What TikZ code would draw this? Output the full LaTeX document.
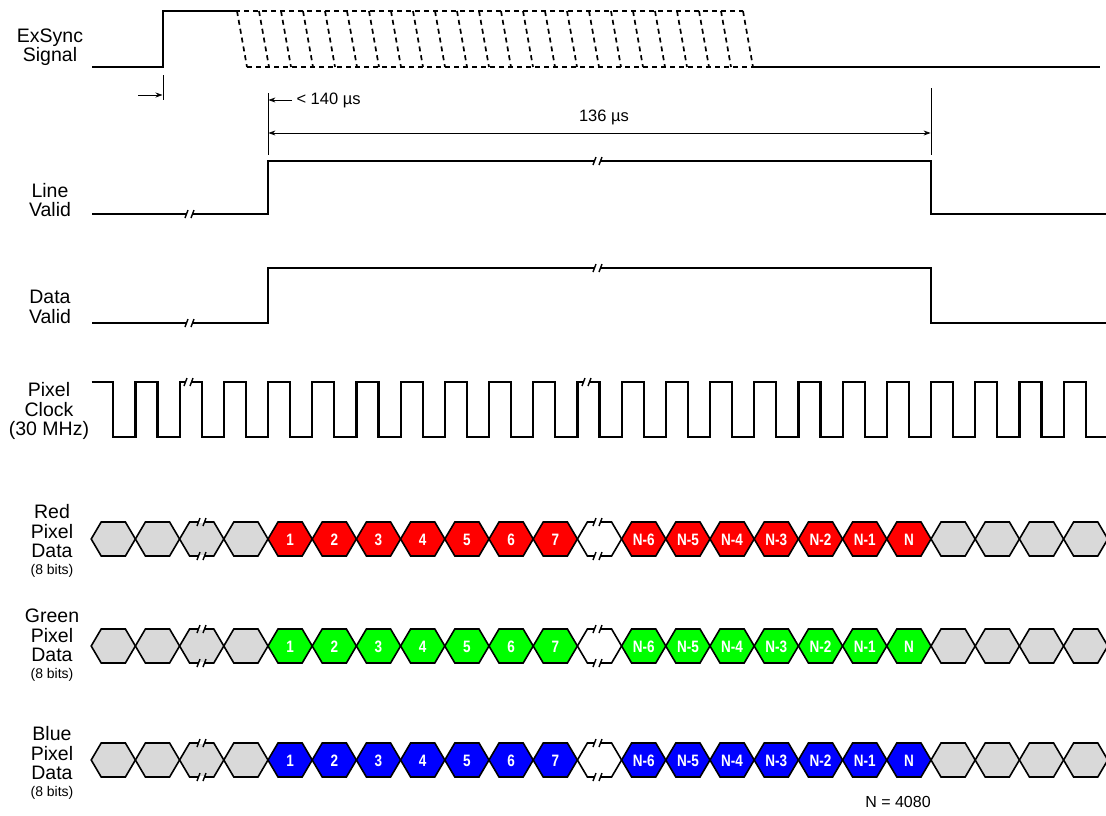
\documentclass[tikz,border=0pt]{standalone}
\usepackage{fontspec}
\setmainfont{Liberation Sans}
\newfontfamily\hexfont[FakeStretch=0.82]{Liberation Sans}
\usetikzlibrary{arrows.meta}
\definecolor{hexgray}{RGB}{217,217,217}
\definecolor{hred}{RGB}{255,0,0}
\definecolor{hgreen}{RGB}{0,255,0}
\definecolor{hblue}{RGB}{0,0,255}
\newcommand\brkmark[3]{% x, y, half-height of gap
  \fill[white] (#1-3.2,#2-#3) rectangle (#1+2.6,#2+#3);
  \draw[line width=1.4pt] (#1-5,#2+4) -- (#1-2,#2-4) (#1+1,#2+4) -- (#1+4,#2-4);}
\newcommand\hexat[3]{% left x, centre y, fill
  \filldraw[hexline, fill=#3] (#1,#2) -- ({#1+10},{#2-17}) -- ({#1+34.2},{#2-17}) -- ({#1+44.2},#2) -- ({#1+34.2},{#2+17}) -- ({#1+10},{#2+17}) -- cycle;}
\newcommand\datarow[3]{% centre y, colour, name
  \foreach \k in {-4,-3,-2,-1,15,16,17,18} {\pgfmathsetmacro\xl{268+\k*44.2}\hexat{\xl}{#1}{hexgray}}
  \pgfmathsetmacro\xl{268+7*44.2}\hexat{\xl}{#1}{white}
  \foreach \k/\t in {0/1,1/2,2/3,3/4,4/5,5/6,6/7,8/N-6,9/N-5,10/N-4,11/N-3,12/N-2,13/N-1,14/N} {%
    \pgfmathsetmacro\xl{268+\k*44.2}\hexat{\xl}{#1}{#2}
    \node[hext] (#3\k) at ({\xl+22.1},{#1+0.5}) {\t};}
  \brkmark{202}{#1-17}{1.3}\brkmark{202}{#1+17}{1.3}
  \brkmark{598}{#1-17}{1.3}\brkmark{598}{#1+17}{1.3}}
\begin{document}
\begin{tikzpicture}[x=1pt,y=-1pt,
  sig/.style={line width=2.2pt, line join=miter},
  dimline/.style={line width=0.8pt},
  dimarrow/.style={line width=0.8pt, -{Stealth[length=7pt,width=5pt]}},
  lbl/.style={font=\fontsize{19.5}{19.5}\selectfont, align=center},
  smalltxt/.style={font=\fontsize{16.5}{17}\selectfont},
  hexline/.style={line width=1.6pt, line join=miter},
  hext/.style={text=white, font=\hexfont\bfseries\fontsize{16.5}{16.5}\selectfont},
  dsh/.style={line width=1.7pt, dash pattern=on 5pt off 4pt}]
\useasboundingbox (0,0) rectangle (1106,815);
% labels
\node[lbl] (lex) at (50,47) {ExSync\\Signal};
\node[lbl] (llv) at (50,200) {Line\\Valid};
\node[lbl] (ldv) at (50,307) {Data\\Valid};
\node[lbl] (lpc) at (49,411) {Pixel\\Clock\\(30 MHz)};
\node[lbl] (lrd) at (52,541) {Red\\Pixel\\Data\\[-3pt]{\fontsize{14}{15}\selectfont(8 bits)}};
\node[lbl] (lgd) at (52,645) {Green\\Pixel\\Data\\[-3pt]{\fontsize{14}{15}\selectfont(8 bits)}};
\node[lbl] (lbd) at (52,763) {Blue\\Pixel\\Data\\[-3pt]{\fontsize{14}{15}\selectfont(8 bits)}};
% ExSync
\draw[sig] (92,67) -- (163,67) -- (163,11) -- (235,11);
\draw[dsh] (235,11) -- (743,11);
\draw[dsh] (247,67) -- (753,67);
\foreach \i in {0,...,23} \draw[dsh] ({237+\i*22},11) -- ({247+\i*22},67);
\draw[sig] (753,67) -- (1100,67);
% timing dimensions
\coordinate (exedge) at (162.5,95);
\coordinate (exarr) at (138,95);
\draw[dimline] (163,75) -- (163,100);
\draw[dimarrow] (exarr) -- (exedge);
\coordinate (lvtop) at (268,93);
\coordinate (lvbot) at (268,155);
\coordinate (lvtopr) at (931,88);
\coordinate (lvbotr) at (931,155);
\draw[dimline] (lvtop) -- (lvbot);
\draw[dimline] (lvtopr) -- (lvbotr);
\coordinate (d140a) at (292,100);
\coordinate (d140b) at (268.4,100);
\draw[dimarrow] (d140a) -- (d140b);
\node[smalltxt, anchor=west] (t140) at (293,100) {< 140 µs};
\coordinate (d136a) at (268.4,133);
\coordinate (d136b) at (930.6,133);
\draw[dimline, {Stealth[length=7pt,width=5pt]}-{Stealth[length=7pt,width=5pt]}] (d136a) -- (d136b);
\node[smalltxt] (t136) at (604,117) {136 µs};
% Line Valid
\draw[sig] (92,214) -- (268,214) -- (268,161) -- (931,161) -- (931,214) -- (1106,214);
\brkmark{190}{214}{1.6}\brkmark{598}{161}{1.6}
% Data Valid
\draw[sig] (92,323) -- (268,323) -- (268,268) -- (931,268) -- (931,323) -- (1106,323);
\brkmark{190}{323}{1.6}\brkmark{598}{268}{1.6}
% Pixel clock
\draw[sig] (91.5,382) \foreach \k in {-4,...,17} { -- ({268+\k*44.2+22.1},382) -- ({268+\k*44.2+22.1},437) -- ({268+(\k+1)*44.2},437) -- ({268+(\k+1)*44.2},382) } -- (1085.7,382) -- (1085.7,437) -- (1106,437);
\brkmark{189}{382}{1.6}\brkmark{587}{382}{1.6}
% data rows
\datarow{539}{hred}{r}
\datarow{646}{hgreen}{g}
\datarow{760}{hblue}{b}
\node[font=\fontsize{16}{17}\selectfont] (nn) at (898,802) {N = 4080};
\end{tikzpicture}
\end{document}
